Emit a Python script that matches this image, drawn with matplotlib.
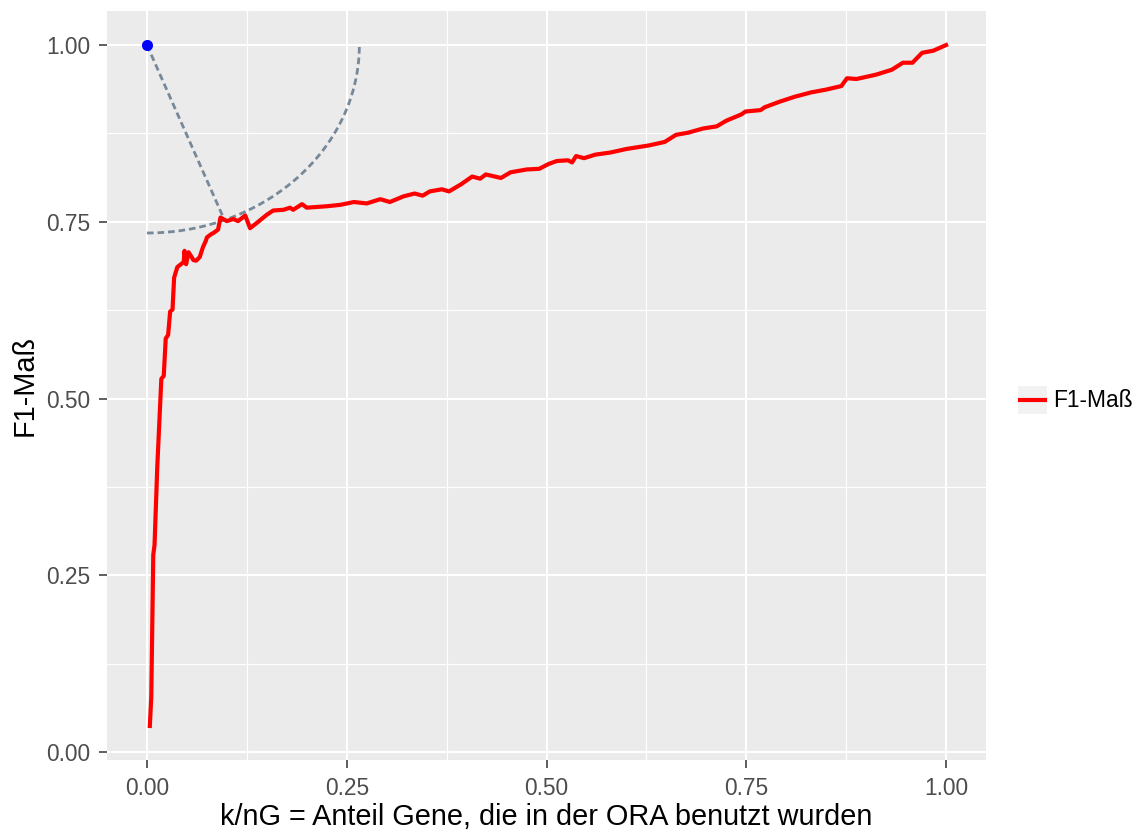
import numpy as np
import matplotlib
matplotlib.use("Agg")
from matplotlib import pyplot as plt
from matplotlib.patches import Rectangle
from matplotlib.lines import Line2D

# F1 curve
anteil = [0.0036, 0.0054, 0.0079, 0.0095, 0.0129, 0.018, 0.021, 0.0235, 0.0265, 0.029,
          0.032, 0.034, 0.038, 0.0425, 0.046, 0.047, 0.049, 0.052, 0.056, 0.058,
          0.0615, 0.066, 0.070, 0.074, 0.075, 0.081, 0.083, 0.089, 0.092, 0.100,
          0.108, 0.114, 0.123, 0.129, 0.137, 0.150, 0.158, 0.171, 0.179, 0.183,
          0.194, 0.200, 0.225, 0.242, 0.259, 0.275, 0.292, 0.304, 0.321, 0.335,
          0.345, 0.354, 0.369, 0.378, 0.393, 0.407, 0.417, 0.424, 0.443, 0.455,
          0.475, 0.491, 0.503, 0.513, 0.527, 0.532, 0.537, 0.547, 0.561, 0.580,
          0.600, 0.628, 0.648, 0.662, 0.677, 0.696, 0.713, 0.725, 0.744, 0.749,
          0.768, 0.773, 0.792, 0.811, 0.831, 0.850, 0.869, 0.876, 0.888, 0.912,
          0.932, 0.946, 0.958, 0.970, 0.984, 1.000]
f1 = [0.037, 0.078, 0.279, 0.293, 0.403, 0.528, 0.532, 0.585, 0.590, 0.623,
      0.626, 0.671, 0.686, 0.690, 0.693, 0.709, 0.690, 0.707, 0.700, 0.696,
      0.695, 0.700, 0.714, 0.724, 0.728, 0.733, 0.734, 0.739, 0.756, 0.751,
      0.754, 0.751, 0.759, 0.741, 0.748, 0.760, 0.766, 0.767, 0.770, 0.767,
      0.775, 0.770, 0.772, 0.774, 0.778, 0.776, 0.782, 0.778, 0.786, 0.790,
      0.787, 0.793, 0.796, 0.793, 0.803, 0.814, 0.811, 0.817, 0.812, 0.820,
      0.824, 0.825, 0.832, 0.836, 0.837, 0.834, 0.843, 0.840, 0.845, 0.848,
      0.853, 0.858, 0.863, 0.873, 0.876, 0.882, 0.885, 0.893, 0.902, 0.906,
      0.908, 0.912, 0.920, 0.927, 0.933, 0.937, 0.942, 0.953, 0.952, 0.958,
      0.965, 0.975, 0.975, 0.989, 0.992, 1.000]

ideal = (0.0, 1.0)          # blue point
best = (0.097, 0.7525)      # closest curve point to the ideal point

breaks = [0.0, 0.25, 0.5, 0.75, 1.0]
minor_breaks = [0.125, 0.375, 0.625, 0.875]
tick_labels = ["0.00", "0.25", "0.50", "0.75", "1.00"]

plt.rcParams['font.family'] = ['Liberation Sans', 'DejaVu Sans']

W, H = 1141, 830
fig = plt.figure(figsize=(W / 100, H / 100), dpi=100)
ax = fig.add_axes([107 / W, 1 - 760 / H, (986 - 107) / W, (760 - 11) / H])
ax.set_facecolor('#EBEBEB')
for s in ax.spines.values():
    s.set_visible(False)

# circle around the ideal point through the closest point
r = np.hypot(best[0] - ideal[0], best[1] - ideal[1])
t = np.linspace(-np.pi / 2, 0, 200)
ax.plot(ideal[0] + r * np.cos(t), ideal[1] + r * np.sin(t), color='#778899',
        lw=2.0, dashes=(2.4, 1.4), zorder=3)
ax.plot([ideal[0], best[0]], [ideal[1], best[1]], color='#778899',
        lw=2.0, dashes=(2.4, 1.4), zorder=3)
ax.plot(anteil, f1, color='#FF0000', lw=3.0, zorder=4, solid_joinstyle='round')
ax.plot([ideal[0]], [ideal[1]], 'o', color='#0000FF', ms=8, mew=0, zorder=5)

# ggplot-style expansion of 5 %
xr = (min(min(anteil), ideal[0]), max(max(anteil), ideal[0]))
yr = (min(min(f1), ideal[1]), max(max(f1), ideal[1]))
ax.set_xlim(xr[0] - 0.05 * (xr[1] - xr[0]), xr[1] + 0.05 * (xr[1] - xr[0]))
ax.set_ylim(yr[0] - 0.05 * (yr[1] - yr[0]), yr[1] + 0.05 * (yr[1] - yr[0]))

ax.set_xticks(breaks)
ax.set_xticklabels(tick_labels)
ax.set_yticks(breaks)
ax.set_yticklabels(tick_labels)
ax.set_xticks(minor_breaks, minor=True)
ax.set_yticks(minor_breaks, minor=True)
ax.grid(which='major', color='white', lw=1.5)
ax.grid(which='minor', color='white', lw=0.8)
ax.set_axisbelow(True)
ax.tick_params(which='major', length=6, width=1.1, color='#333333',
               labelsize=16.4, labelcolor='#4D4D4D', pad=6)
ax.tick_params(which='minor', length=0)

ax.set_xlabel("k/nG = Anteil Gene, die in der ORA benutzt wurden", fontsize=20.8)
ax.set_ylabel("F1-Maß", fontsize=20.8)
ax.xaxis.set_label_coords(0.5, -(803 - 760) / 749)
ax.yaxis.set_label_coords(-(107 - 39) / 879, 0.5)

# legend
fig.add_artist(Rectangle((1018 / W, 1 - 414 / H), 29 / W, 28 / H,
                         transform=fig.transFigure, color='#F2F2F2', lw=0))
fig.add_artist(Line2D([1020 / W, 1045 / W], [1 - 400 / H, 1 - 400 / H],
                      transform=fig.transFigure, color='#FF0000', lw=3.0))
fig.text(1053 / W, 1 - 400 / H, "F1-Maß", fontsize=16.4, va='center', ha='left')

fig.savefig("out.png", dpi=100)
